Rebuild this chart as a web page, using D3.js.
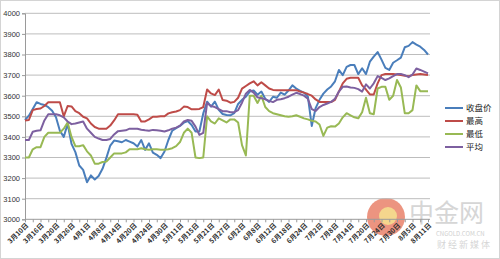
<!DOCTYPE html>
<html>
<head>
<meta charset="utf-8">
<script src="https://cdn.jsdelivr.net/npm/d3@7"></script>
<style>
  body { margin: 0; background: #fff; }
  svg { display: block; font-family: "Noto Sans CJK SC", "Noto Sans", sans-serif; }
</style>
</head>
<body>
<svg id="chart" width="500" height="259"></svg>
<script>
// tick labels, one every 4 trading days
var tickLabels = ['3月10日', '3月16日', '3月20日', '3月26日', '4月1日', '4月8日', '4月14日',
  '4月20日', '4月24日', '4月30日', '5月11日', '5月15日', '5月21日', '5月27日', '6月2日',
  '6月8日', '6月12日', '6月18日', '6月24日', '7月2日', '7月8日', '7月14日', '7月20日',
  '7月24日', '7月30日', '8月5日', '8月11日'];
var labelEvery = 4;

var seriesNames = ['收盘价', '最高', '最低', '平均'];

var closeVals = [3482, 3503, 3535, 3568, 3560, 3555, 3544, 3527, 3495, 3430,
  3400, 3463, 3366, 3326, 3261, 3240, 3180, 3213, 3193, 3210,
  3245, 3298, 3358, 3382, 3379, 3374, 3385, 3377, 3369, 3353,
  3385, 3337, 3369, 3324, 3313, 3297, 3329, 3385, 3430, 3442,
  3453, 3469, 3477, 3458, 3426, 3426, 3514, 3571, 3547, 3571,
  3531, 3511, 3506, 3505, 3515, 3560, 3580, 3595, 3620, 3625,
  3605, 3620, 3585, 3570, 3595, 3590, 3615, 3605, 3625, 3650,
  3635, 3623, 3615, 3595, 3453, 3540, 3580, 3610, 3630, 3645,
  3670, 3725, 3700, 3740, 3749, 3749, 3705, 3733, 3705, 3765,
  3790, 3812, 3775, 3735, 3725, 3760, 3772, 3785, 3835, 3842,
  3860, 3848, 3838, 3822, 3800];

var highVals = [3480, 3482, 3530, 3535, 3538, 3550, 3568, 3568, 3568, 3568,
  3500, 3550, 3548, 3525, 3515, 3498, 3490, 3465, 3448, 3440,
  3440, 3440, 3455, 3480, 3510, 3510, 3510, 3510, 3510, 3508,
  3475, 3475, 3485, 3498, 3498, 3500, 3500, 3514, 3520, 3523,
  3530, 3547, 3545, 3534, 3534, 3536, 3545, 3630, 3611, 3603,
  3630, 3579, 3576, 3566, 3570, 3590, 3634, 3647, 3660, 3670,
  3650, 3665, 3650, 3635, 3628, 3627, 3627, 3627, 3627, 3627,
  3627, 3620, 3615, 3608, 3600, 3582, 3570, 3569, 3569, 3569,
  3580, 3620, 3660, 3682, 3687, 3687, 3687, 3650, 3630, 3606,
  3606, 3660, 3700, 3705, 3705, 3705, 3703, 3700, 3697, 3695,
  3700, 3703, 3705, 3703, 3700];

var lowVals = [3300, 3300, 3340, 3350, 3350, 3400, 3420, 3420, 3420, 3420,
  3440, 3470, 3400, 3355, 3355, 3360, 3330, 3310, 3270, 3270,
  3278, 3280, 3300, 3320, 3320, 3320, 3325, 3340, 3340, 3340,
  3345, 3340, 3338, 3340, 3340, 3338, 3338, 3340, 3345, 3355,
  3375, 3420, 3440, 3420, 3300, 3297, 3300, 3500, 3475, 3465,
  3490, 3480, 3470, 3485, 3485, 3470, 3360, 3310, 3600, 3600,
  3565, 3600, 3545, 3525, 3515, 3510, 3505, 3500, 3498, 3500,
  3505, 3498, 3490, 3485, 3478, 3475, 3460, 3405, 3445, 3452,
  3450, 3465, 3495, 3515, 3505, 3495, 3490, 3520, 3590, 3515,
  3510, 3635, 3643, 3643, 3580, 3600, 3676, 3640, 3515, 3515,
  3530, 3650, 3622, 3622, 3622];

var avgVals = [3385, 3385, 3425, 3430, 3432, 3480, 3510, 3510, 3510, 3505,
  3495, 3475, 3462, 3465, 3470, 3475, 3440, 3420, 3400, 3392,
  3385, 3385, 3390, 3412, 3428, 3430, 3432, 3440, 3440, 3440,
  3435, 3432, 3430, 3434, 3432, 3430, 3426, 3432, 3440, 3445,
  3455, 3475, 3482, 3478, 3450, 3410, 3420, 3565, 3550, 3545,
  3535, 3525, 3525, 3520, 3520, 3530, 3566, 3610, 3628, 3615,
  3592, 3588, 3582, 3575, 3569, 3580, 3583, 3588, 3595, 3605,
  3614, 3608, 3600, 3585, 3535, 3526, 3545, 3555, 3562, 3570,
  3585, 3620, 3643, 3645, 3640, 3638, 3632, 3620, 3655, 3635,
  3660, 3695, 3686, 3676, 3684, 3695, 3705, 3705, 3700, 3690,
  3703, 3732, 3725, 3717, 3708];

var yTicks = [3000, 3100, 3200, 3300, 3400, 3500, 3600, 3700, 3800, 3900, 4000];

var colors = ['#4a7ebb', '#be4b48', '#98b954', '#7d60a0'];
var allSeries = [closeVals, highVals, lowVals, avgVals];

var svg = d3.select('#chart');
var margin = { left: 25, top: 13.3, right: 428, bottom: 219.3 };
var n = closeVals.length;

var x = d3.scaleLinear().domain([0, n - 1]).range([margin.left, margin.right]);
var y = d3.scaleLinear().domain([3000, 4000]).range([margin.bottom, margin.top]);

// frame
svg.append('rect')
  .attr('x', 0.5).attr('y', 0.5).attr('width', 499).attr('height', 258)
  .attr('fill', '#fff').attr('stroke', '#d4d4d4');

// watermark
var wm = svg.append('g').attr('opacity', 0.85);
wm.append('circle').attr('cx', 386).attr('cy', 217).attr('r', 19).attr('fill', '#e9826a');
wm.append('circle').attr('cx', 388).attr('cy', 216).attr('r', 9).attr('fill', '#f3cf7a');
wm.append('text').attr('x', 409).attr('y', 222).attr('font-size', 25)
  .attr('fill', '#cfcfcf').text('中金网');
wm.append('text').attr('x', 436).attr('y', 236).attr('font-size', 6)
  .attr('fill', '#c8c8c8').text('CNGOLD.COM.CN');
wm.append('text').attr('x', 437).attr('y', 248).attr('font-size', 9)
  .attr('fill', '#cfcfcf').text('财 经 新 媒 体');

// gridlines
svg.append('g')
  .selectAll('line')
  .data(yTicks.slice(1))
  .enter()
  .append('line')
  .attr('x1', margin.left).attr('x2', margin.right + 2)
  .attr('y1', function (d) { return y(d); })
  .attr('y2', function (d) { return y(d); })
  .attr('stroke', '#bdbdbd').attr('stroke-width', 1);

// y axis
var yAxis = svg.append('g')
  .attr('transform', 'translate(' + margin.left + ',0)')
  .call(d3.axisLeft(y).tickValues(yTicks).tickSize(3).tickPadding(2).tickFormat(d3.format('d')));
yAxis.selectAll('path, line').attr('stroke', '#9a9a9a');
yAxis.selectAll('text').attr('font-size', 7.5).attr('fill', '#333')
  .attr('font-family', '"Liberation Sans", Arial, sans-serif');

// x axis ticks
var tickIdx = d3.range(0, n, 2);
var xAxis = svg.append('g')
  .attr('transform', 'translate(0,' + margin.bottom + ')')
  .call(d3.axisBottom(x).tickValues(tickIdx).tickSize(3).tickFormat(''));
xAxis.select('.domain').attr('stroke', '#9a9a9a').attr('d', 'M' + margin.left + ',0H' + (margin.right + 2));
xAxis.selectAll('line').attr('stroke', '#9a9a9a');

// x labels
svg.append('g')
  .selectAll('text')
  .data(tickLabels)
  .enter()
  .append('text')
  .attr('transform', function (d, i) {
    return 'translate(' + (x(i * labelEvery) + 2) + ',' + (margin.bottom + 5) + ') rotate(-45)';
  })
  .attr('text-anchor', 'end')
  .attr('dy', '0.35em')
  .attr('font-size', 6.8)
  .attr('font-weight', 'bold')
  .attr('fill', '#333')
  .text(function (d) { return d; });

// lines
var line = d3.line()
  .x(function (d, i) { return x(i); })
  .y(function (d) { return y(d); });

svg.append('g')
  .selectAll('path')
  .data(allSeries)
  .enter()
  .append('path')
  .attr('fill', 'none')
  .attr('stroke', function (d, i) { return colors[i]; })
  .attr('stroke-width', 2)
  .attr('stroke-linejoin', 'round')
  .attr('d', line);

// legend
var legend = svg.append('g').attr('transform', 'translate(445,108)');
var item = legend.selectAll('g')
  .data(seriesNames)
  .enter()
  .append('g')
  .attr('transform', function (d, i) { return 'translate(0,' + (i * 13) + ')'; });
item.append('line')
  .attr('x1', 0).attr('x2', 18).attr('y1', 0).attr('y2', 0)
  .attr('stroke', function (d, i) { return colors[i]; })
  .attr('stroke-width', 2);
item.append('text')
  .attr('x', 21).attr('y', 0).attr('dy', '0.35em')
  .attr('font-size', 8.5).attr('fill', '#222')
  .text(function (d) { return d; });
</script>
</body>
</html>
